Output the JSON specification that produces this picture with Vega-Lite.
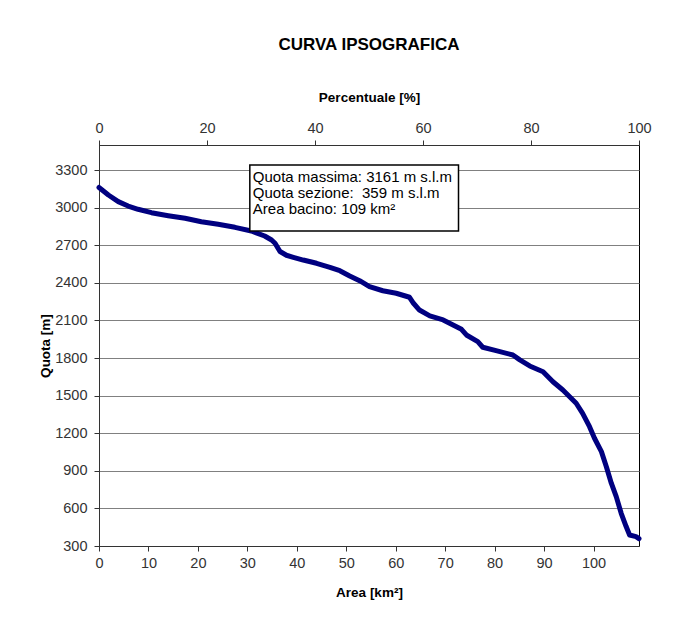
{
  "$schema": "https://vega.github.io/schema/vega-lite/v6.json",
  "width": 540,
  "height": 401,
  "autosize": {"type": "none"},
  "padding": {"left": 99, "top": 145, "right": 42, "bottom": 75},
  "background": "white",
  "title": {"text": "CURVA IPSOGRAFICA", "font": "Liberation Sans", "fontSize": 17, "fontWeight": "bold", "color": "#000000", "anchor": "middle", "offset": 36},
  "config": {
    "font": "Liberation Sans",
    "view": {"stroke": "#000000", "strokeWidth": 1},
    "axis": {"labelFont": "Liberation Sans", "labelFontSize": 14.5, "labelColor": "#333333", "labelFlush": false, "titleFont": "Liberation Sans", "titleFontSize": 13.5, "titleFontWeight": "bold", "titleColor": "#000000", "domainColor": "#333333", "tickColor": "#333333", "tickSize": 5}
  },
  "datasets": {
    "curve": [
      {"area": 0, "quota": 3161}, {"area": 1.9, "quota": 3101}, {"area": 3.9, "quota": 3048}, {"area": 5.9, "quota": 3013},
      {"area": 7.9, "quota": 2987}, {"area": 10.6, "quota": 2960}, {"area": 14.0, "quota": 2936}, {"area": 17.4, "quota": 2915},
      {"area": 20.7, "quota": 2888}, {"area": 24.1, "quota": 2867}, {"area": 27.5, "quota": 2843}, {"area": 30.8, "quota": 2814},
      {"area": 33.5, "quota": 2774}, {"area": 34.9, "quota": 2742}, {"area": 35.6, "quota": 2716}, {"area": 36.6, "quota": 2650},
      {"area": 37.9, "quota": 2620}, {"area": 39.3, "quota": 2604}, {"area": 41.3, "quota": 2582}, {"area": 44.0, "quota": 2556},
      {"area": 46.7, "quota": 2524}, {"area": 48.7, "quota": 2497}, {"area": 50.7, "quota": 2455}, {"area": 52.7, "quota": 2417},
      {"area": 54.7, "quota": 2369}, {"area": 57.4, "quota": 2337}, {"area": 60.1, "quota": 2317}, {"area": 62.8, "quota": 2285},
      {"area": 63.6, "quota": 2237}, {"area": 64.8, "quota": 2183}, {"area": 66.9, "quota": 2136}, {"area": 69.6, "quota": 2104},
      {"area": 71.6, "quota": 2064}, {"area": 73.3, "quota": 2029}, {"area": 74.3, "quota": 1984}, {"area": 76.6, "quota": 1931},
      {"area": 77.6, "quota": 1886}, {"area": 80.3, "quota": 1859}, {"area": 83.7, "quota": 1824}, {"area": 85.1, "quota": 1785},
      {"area": 87.1, "quota": 1737}, {"area": 89.8, "quota": 1691}, {"area": 91.8, "quota": 1611}, {"area": 93.8, "quota": 1545},
      {"area": 96.5, "quota": 1439}, {"area": 97.8, "quota": 1359}, {"area": 99.2, "quota": 1252}, {"area": 100.2, "quota": 1160},
      {"area": 101.6, "quota": 1053}, {"area": 102.6, "quota": 933}, {"area": 103.6, "quota": 801}, {"area": 104.6, "quota": 694},
      {"area": 105.6, "quota": 561}, {"area": 106.6, "quota": 455}, {"area": 107.3, "quota": 388}, {"area": 108.6, "quota": 375},
      {"area": 109.2, "quota": 359}
    ],
    "box": [{"x1": 30.5, "x2": 72.7, "y1": 3340, "y2": 2814}],
    "notes": [
      {"x": 31.1, "y": 3245, "label": "Quota massima:\u00a03161 m s.l.m"},
      {"x": 31.1, "y": 3118, "label": "Quota sezione:\u00a0\u00a0359 m s.l.m"},
      {"x": 31.1, "y": 2990, "label": "Area bacino: 109 km²"}
    ],
    "pct": [{"pct": 0}, {"pct": 100}]
  },
  "layer": [
    {
      "layer": [
        {
          "data": {"name": "curve"},
          "mark": {"type": "line", "color": "#000080", "strokeWidth": 5, "strokeJoin": "round", "strokeCap": "round"},
          "encoding": {
            "x": {"field": "area", "type": "quantitative", "scale": {"domain": [0, 109.2], "nice": false, "zero": false},
              "axis": {"title": "Area [km²]", "values": [0, 10, 20, 30, 40, 50, 60, 70, 80, 90, 100], "grid": false, "labelPadding": 5, "titlePadding": 16}},
            "y": {"field": "quota", "type": "quantitative", "scale": {"domain": [300, 3500], "nice": false, "zero": false},
              "axis": {"title": "Quota [m]", "format": "d", "values": [300, 600, 900, 1200, 1500, 1800, 2100, 2400, 2700, 3000, 3300], "grid": true, "gridColor": "#808080", "gridWidth": 1, "gridOpacity": 1, "labelPadding": 7, "titlePadding": 2}}
          }
        },
        {
          "data": {"name": "box"},
          "mark": {"type": "rect", "fill": "#ffffff", "stroke": "#000000", "strokeWidth": 1.5},
          "encoding": {
            "x": {"field": "x1", "type": "quantitative"},
            "x2": {"field": "x2"},
            "y": {"field": "y1", "type": "quantitative"},
            "y2": {"field": "y2"}
          }
        },
        {
          "data": {"name": "notes"},
          "mark": {"type": "text", "align": "left", "baseline": "middle", "font": "Liberation Sans", "fontSize": 15, "color": "#000000"},
          "encoding": {
            "x": {"field": "x", "type": "quantitative"},
            "y": {"field": "y", "type": "quantitative"},
            "text": {"field": "label", "type": "nominal"}
          }
        }
      ]
    },
    {
      "data": {"name": "pct"},
      "mark": {"type": "point", "opacity": 0},
      "encoding": {
        "x": {"field": "pct", "type": "quantitative", "scale": {"domain": [0, 100], "nice": false},
          "axis": {"orient": "top", "title": "Percentuale [%]", "values": [0, 20, 40, 60, 80, 100], "grid": false, "labelPadding": 5, "titlePadding": 16}}
      }
    }
  ],
  "resolve": {"scale": {"x": "independent"}}
}
